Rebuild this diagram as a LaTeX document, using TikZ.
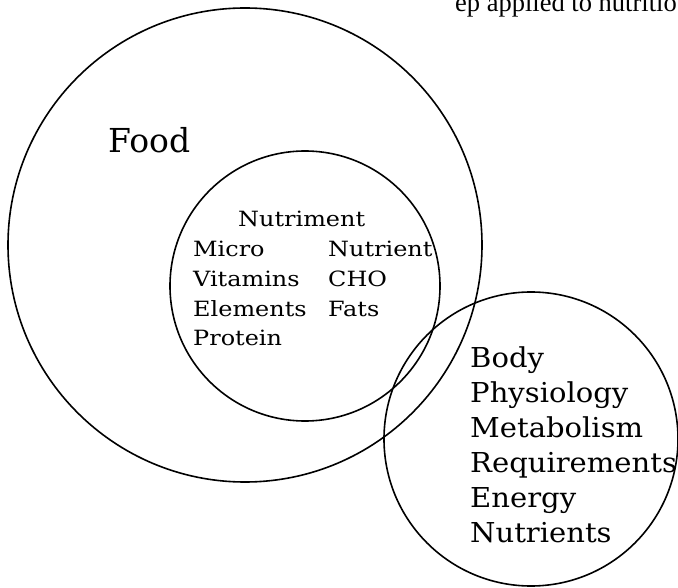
\documentclass[tikz,border=0pt]{standalone}
\usepackage{fontspec}
\setmainfont{DejaVu Serif}
\newfontfamily\midfont[FakeStretch=1.14]{DejaVu Serif}
\newfontfamily\bodyfont[FakeStretch=1.06]{DejaVu Serif}
\newfontfamily\captionfont{Liberation Serif}
\begin{document}
\begin{tikzpicture}[x=1pt,y=-1pt,
  ring/.style={draw=black,line width=1.6pt,circle,inner sep=0pt},
  bigword/.style={anchor=base west,inner sep=0pt,font=\fontsize{33}{40}\selectfont},
  midword/.style={anchor=base west,inner sep=0pt,font=\midfont\fontsize{21}{24}\selectfont},
  bodyword/.style={anchor=base west,inner sep=0pt,font=\bodyfont\fontsize{27.4}{32}\selectfont}]
\useasboundingbox (0,0) rectangle (678,588);
\clip (0,0) rectangle (678,588);
\fill[white] (0,0) rectangle (678,588);

% running caption line, cut by the page edge
\node[anchor=base west,inner sep=0pt,font=\captionfont\fontsize{26.5}{30}\selectfont] (cap) at (455,12) {ep applied to nutritio};

% the three sets
\node[ring,minimum size=474pt] (food) at (245,245) {};
\node[ring,minimum size=270pt] (nutriment) at (305,286) {};
\node[ring,minimum size=294pt] (body) at (531,439) {};

% Food
\node[bigword] (tfood) at (108,153) {Food};

% Nutriment
\node[midword] (tnut) at (238,227) {Nutriment};
\node[midword] (tmicro) at (193,257) {Micro};
\node[midword] (tnutrient) at (328,257) {Nutrient};
\node[midword] (tvit) at (193,287) {Vitamins};
\node[midword] (tcho) at (328,287) {CHO};
\node[midword] (telem) at (193,317) {Elements};
\node[midword] (tfats) at (328,317) {Fats};
\node[midword] (tprot) at (193,345) {Protein};

% Body
\node[bodyword] (tbody) at (470,367) {Body};
\node[bodyword] (tphys) at (470,402) {Physiology};
\node[bodyword] (tmeta) at (470,437) {Metabolism};
\node[bodyword] (treq) at (470,472) {Requirements};
\node[bodyword] (tenergy) at (470,507) {Energy};
\node[bodyword] (tnutr) at (470,542) {Nutrients};
\end{tikzpicture}
\end{document}
